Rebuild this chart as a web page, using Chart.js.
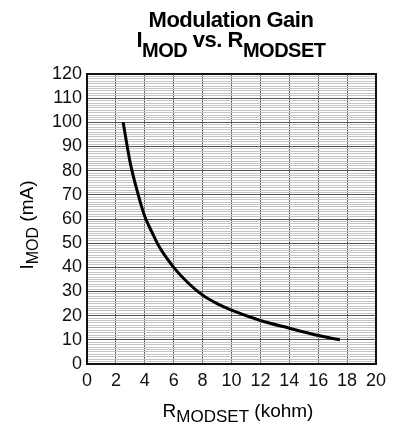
<!DOCTYPE html>
<html lang="en">
<head>
    <meta charset="UTF-8">
    <title>Modulation Gain</title>
    <script src="https://cdn.jsdelivr.net/npm/chart.js"></script>
    <style>
        html, body { margin: 0; padding: 0; background: #fff; }
        #wrap { width: 402px; height: 426px; }
    </style>
</head>
<body>
    <div id="wrap"><canvas id="gainChart"></canvas></div>
    <script>
// values
var rModset = [2.5, 3, 3.5, 4, 4.5, 5, 6, 7, 8, 9, 10, 12, 14, 16, 17.5];
var iMod = [100, 83, 71, 61, 54.5, 48.5, 40, 33.5, 28.5, 25, 22.3, 18, 14.8, 11.8, 10];

var xTicks = [0, 2, 4, 6, 8, 10, 12, 14, 16, 18, 20];
var yMax = 120;

var FONT = '"Liberation Sans", Arial, Helvetica, sans-serif';

// draw text with subscripts, parts = [[text, isSub], ...]
function richText(ctx, parts, x, y, size, bold, subSize, subDrop) {
    var w = 0;
    parts.forEach(function(p) {
        ctx.font = (bold ? 'bold ' : '') + (p[1] ? subSize : size) + 'px ' + FONT;
        w += ctx.measureText(p[0]).width;
    });
    var cx = x - w / 2;
    parts.forEach(function(p) {
        ctx.font = (bold ? 'bold ' : '') + (p[1] ? subSize : size) + 'px ' + FONT;
        ctx.fillText(p[0], cx, p[1] ? y + subDrop : y);
        cx += ctx.measureText(p[0]).width;
    });
}

var labelsPlugin = {
    id: 'labels',
    afterDraw: function(chart) {
        var ctx = chart.ctx;
        var a = chart.chartArea;
        ctx.save();
        // frame
        ctx.strokeStyle = '#111';
        ctx.lineWidth = 2;
        ctx.strokeRect(a.left, a.top, a.right - a.left, a.bottom - a.top);

        ctx.fillStyle = '#000';
        ctx.textBaseline = 'alphabetic';
        ctx.letterSpacing = '-0.5px';
        richText(ctx, [['Modulation Gain', false]], 231, 27, 22, true, 22, 0);
        richText(ctx, [['I', false], ['MOD', true], [' vs. R', false], ['MODSET', true]], 231, 47, 22, true, 20, 10);
        ctx.letterSpacing = '0px';

        // x title
        richText(ctx, [['R', false], ['MODSET', true], [' (kohm)', false]], 238, 417, 19, false, 17, 5);

        // y title
        ctx.translate(33, 225);
        ctx.rotate(-Math.PI / 2);
        richText(ctx, [['I', false], ['MOD', true], [' (mA)', false]], 0, 0, 19, false, 16, 5);
        ctx.restore();
    }
};

var ctx = document.getElementById('gainChart').getContext('2d');
var gainChart = new Chart(ctx, {
    type: 'line',
    data: {
        datasets: [{
            data: rModset.map(function(r, i) { return { x: r, y: iMod[i] }; }),
            borderColor: '#000',
            borderWidth: 3,
            pointRadius: 0,
            cubicInterpolationMode: 'monotone',
            fill: false
        }]
    },
    options: {
        responsive: true,
        maintainAspectRatio: false,
        animation: false,
        layout: { padding: { left: 0, right: 26, top: 74, bottom: 0 } },
        plugins: {
            legend: { display: false },
            tooltip: { enabled: false }
        },
        scales: {
            x: {
                type: 'linear',
                min: 0,
                max: 20,
                afterBuildTicks: function(axis) {
                    axis.ticks = xTicks.map(function(v) { return { value: v }; });
                },
                afterFit: function(axis) { axis.height = 62; },
                ticks: {
                    color: '#111',
                    font: { family: FONT, size: 18 },
                    padding: 6,
                    maxRotation: 0,
                    autoSkip: false
                },
                grid: { color: '#666', lineWidth: 1, drawTicks: false },
                border: { display: false }
            },
            y: {
                min: 0,
                max: yMax,
                afterBuildTicks: function(axis) {
                    var t = [];
                    for (var v = 0; v <= yMax; v++) t.push({ value: v });
                    axis.ticks = t;
                },
                afterFit: function(axis) { axis.width = 87; },
                ticks: {
                    color: '#111',
                    font: { family: FONT, size: 18 },
                    padding: 5,
                    autoSkip: false,
                    callback: function(v) { return v % 10 === 0 ? v : ''; }
                },
                grid: {
                    drawTicks: false,
                    lineWidth: 1,
                    color: function(c) {
                        return c.tick && c.tick.value % 10 === 0 ? '#555' : '#c4c4c4';
                    }
                },
                border: { display: false }
            }
        }
    },
    plugins: [labelsPlugin]
});
    </script>
</body>
</html>
